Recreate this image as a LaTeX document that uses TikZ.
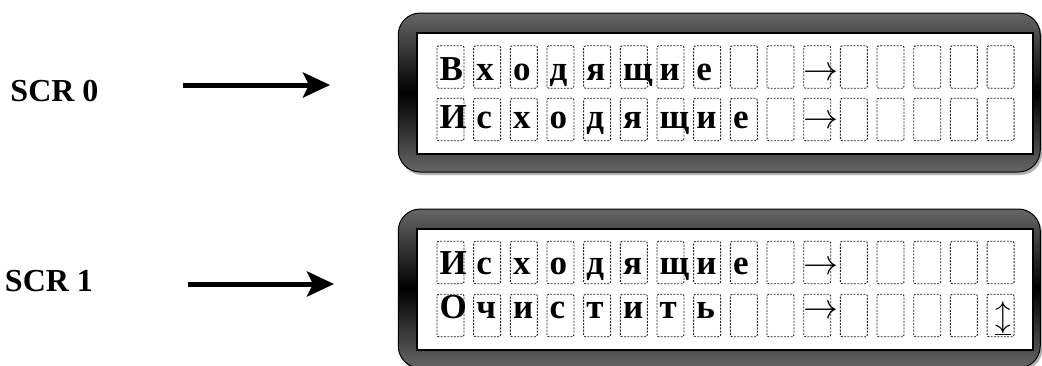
\RequirePackage{fix-cm}
\documentclass[tikz,border=0pt]{standalone}
\usepackage{fontspec}
\setmainfont{Liberation Serif}
\usepackage{tikz}
\usetikzlibrary{arrows.meta,positioning,shadows}

\definecolor{bezelgray}{HTML}{666666}

% one row of 16 character cells: name, cell centre y, baseline y, characters
\newcommand{\lcdrow}[4]{%
  \foreach \sym [count=\k from 0] in {#4} {
    \node[cellbox] (#1c\k) at ({450.5+36.67*\k},#2) {};
    \node[glyph] (#1t\k) at ({439.5+36.67*\k},#3) {\sym};
  }%
}
\newcommand{\rarr}{\mdseries\hspace{-2.5pt}$\rightarrow$}

\begin{document}
\begin{tikzpicture}[x=1pt, y=1pt,
  bezel/.style={draw=black, line width=1pt, rounded corners=22pt, top color=bezelgray, bottom color=bezelgray, middle color=black, minimum width=642pt, minimum height=159pt, inner sep=0pt, drop shadow={shadow xshift=2pt, shadow yshift=-3pt, fill=black!30, opacity=1}},
  glass/.style={draw=black, line width=1.5pt, fill=white, minimum width=616pt, minimum height=121pt, inner sep=0pt},
  cellbox/.style={draw=black!85, line width=0.9pt, dash pattern=on 2pt off 1.3pt, rounded corners=2pt, minimum width=27pt, minimum height=42.5pt, inner sep=0pt},
  glyph/.style={anchor=base west, inner sep=0pt, font=\fontsize{35}{35}\selectfont\bfseries},
  scrlabel/.style={inner sep=0pt, font=\fontsize{32}{32}\selectfont\bfseries},
  bigarrow/.style={line width=5pt, -{Stealth[length=27pt, width=25pt, inset=6pt]}}]
\useasboundingbox (0,0) rectangle (1042,-365);
\clip (0,0) rectangle (1042,-365);

% screen 0
\node[scrlabel] (scr0) at (54.5,-91) {SCR 0};
\coordinate (arr0a) at (183,-85);
\coordinate (arr0b) at (330,-85);
\draw[bigarrow] (arr0a) -- (arr0b);
\node[bezel] (lcd0) at (719.25,-92.5) {};
\node[glass] (win0) at (725,-93.5) {};
\lcdrow{s0a}{-67}{-80}{В,х,о,д,я,щ,и,е,{},{},\rarr,{},{},{},{},{}}
\lcdrow{s0b}{-119.5}{-128}{И,с,х,о,д,я,щ,и,е,{},\rarr,{},{},{},{},{}}

% screen 1
\node[scrlabel] (scr1) at (49,-281) {SCR 1};
\coordinate (arr1a) at (188,-284);
\coordinate (arr1b) at (334,-284);
\draw[bigarrow] (arr1a) -- (arr1b);
\node[bezel] (lcd1) at (719.25,-288.5) {};
\node[glass] (win1) at (725,-289.5) {};
\lcdrow{s1a}{-262.5}{-274}{И,с,х,о,д,я,щ,и,е,{},\rarr,{},{},{},{},{}}
\lcdrow{s1b}{-315.5}{-318}{О,ч,и,с,т,и,т,ь,{},{},\rarr,{},{},{},{},{}}
\node[inner sep=0pt, font=\fontsize{31}{31}\selectfont] (updn) at ([xshift=2.5pt,yshift=-3pt]s1bc15.center) {$\underline{\updownarrow}$};
\end{tikzpicture}
\end{document}
